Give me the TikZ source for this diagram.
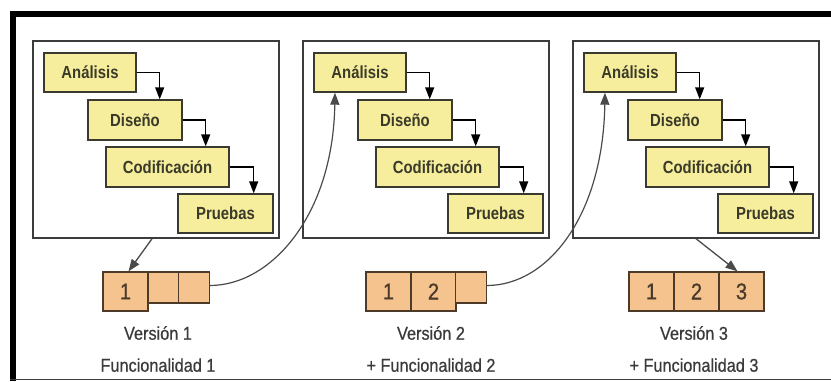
\documentclass[tikz,border=0pt]{standalone}
\usepackage{fontspec}
\usetikzlibrary{arrows.meta,calc}
\newfontfamily\narrowsans[FakeStretch=0.85]{Liberation Sans}
\newfontfamily\capsans[FakeStretch=0.88,FakeBold=0.6]{Liberation Sans}
\definecolor{stepfill}{HTML}{F6EE9C}
\definecolor{stepline}{HTML}{3A3A30}
\definecolor{steptext}{HTML}{3A3A2A}
\definecolor{cellfill}{HTML}{F4C38E}
\definecolor{cellline}{HTML}{4E3A28}
\definecolor{celltext}{HTML}{4A3A2A}
\definecolor{paneline}{HTML}{3C3C3C}
\definecolor{labeltext}{HTML}{3A3A3A}
\definecolor{curveline}{HTML}{4A4A4A}
\tikzset{
  panel/.style={draw=paneline, line width=1.4pt, fill=white, minimum width=246pt, minimum height=197pt, inner sep=0pt},
  stepbox/.style={draw=stepline, line width=1.4pt, fill=stepfill, inner sep=0pt, text=steptext,
    font=\narrowsans\fontsize{17.5}{19}\selectfont\bfseries},
  cell/.style={draw=cellline, line width=1.3pt, fill=cellfill, inner sep=0pt, text=celltext,
    font=\capsans\fontsize{23}{25}\selectfont},
  tallcell/.style={cell, minimum width=45pt, minimum height=39pt},
  shortcell/.style={cell, minimum width=30.5pt, minimum height=31pt},
  caption/.style={align=center, text=labeltext, inner sep=0pt,
    font=\capsans\fontsize{18.5}{32}\selectfont},
  flow/.style={draw=black, line width=1.4pt, -{Triangle[length=12pt,width=9pt]}},
  feed/.style={draw=curveline, line width=1.2pt, -{Triangle[length=12pt,width=9pt]}},
  handoff/.style={draw=curveline, line width=1.3pt, -{Triangle[length=12pt,width=9pt]}}
}
\begin{document}
\begin{tikzpicture}[x=1pt,y=-1pt]
\useasboundingbox (0,0) rectangle (831,381);
% outer frame: heavy top and left bars, thin bottom rule
\fill[black] (10,11) rectangle (831,17);
\fill[black] (10,11) rectangle (16,381);
\draw[paneline, line width=1.5pt] (10,379.5) -- (831,379.5);

% three waterfall panels
\foreach \i/\dx in {1/0,2/270,3/540} {
  \node[panel] (p\i) at (156+\dx,139.5) {};
  \node[stepbox, minimum width=92pt, minimum height=39pt] (a\i) at (90+\dx,72.5) {Análisis};
  \node[stepbox, minimum width=94pt, minimum height=40pt] (d\i) at (135+\dx,120) {Diseño};
  \node[stepbox, minimum width=123pt, minimum height=40pt] (c\i) at (167.5+\dx,167) {Codificación};
  \node[stepbox, minimum width=95pt, minimum height=39pt] (t\i) at (225.5+\dx,213.5) {Pruebas};
  \path (a\i.east) ++(23,0) coordinate (ka\i);
  \path (d\i.east) ++(23,0) coordinate (kd\i);
  \path (c\i.east) ++(24,0) coordinate (kc\i);
  \draw[flow] (a\i.east) -- (ka\i) -- (ka\i |- d\i.north);
  \draw[flow] (d\i.east) -- (kd\i) -- (kd\i |- c\i.north);
  \draw[flow] (c\i.east) -- (kc\i) -- (kc\i |- t\i.north);
}

% version 1
\node[tallcell] (v1c1) at (125.5,291.5) {1};
\node[shortcell] (v1c2) at (163.5,287.5) {};
\node[shortcell] (v1c3) at (194,287.5) {};
% version 2
\node[tallcell] (v2c1) at (388.5,291.5) {1};
\node[tallcell] (v2c2) at (433.5,291.5) {2};
\node[shortcell] (v2c3) at (471,287.5) {};
% version 3
\node[tallcell] (v3c1) at (651.5,291.5) {1};
\node[tallcell] (v3c2) at (696.5,291.5) {2};
\node[tallcell] (v3c3) at (741.5,291.5) {3};

% captions
\node[caption] (l1) at (158,349) {Versión 1\\Funcionalidad 1};
\node[caption] (l2) at (431,349) {Versión 2\\+ Funcionalidad 2};
\node[caption] (l3) at (694,349) {Versión 3\\+ Funcionalidad 3};

% deliveries and feedback into the next iteration
\draw[handoff] ([xshift=-4pt]p1.south) -- ([xshift=3pt]v1c1.north);
\draw[handoff] (p3.south) -- ([xshift=-4pt]v3c3.north);
\draw[feed] ([yshift=2pt]v1c3.east) .. controls +(61,0) and +(-2,123) .. ([xshift=-25pt]a2.south);
\draw[feed] ([yshift=2pt]v2c3.east) .. controls +(61,0) and +(-2,123) .. ([xshift=-25pt]a3.south);
\end{tikzpicture}
\end{document}
